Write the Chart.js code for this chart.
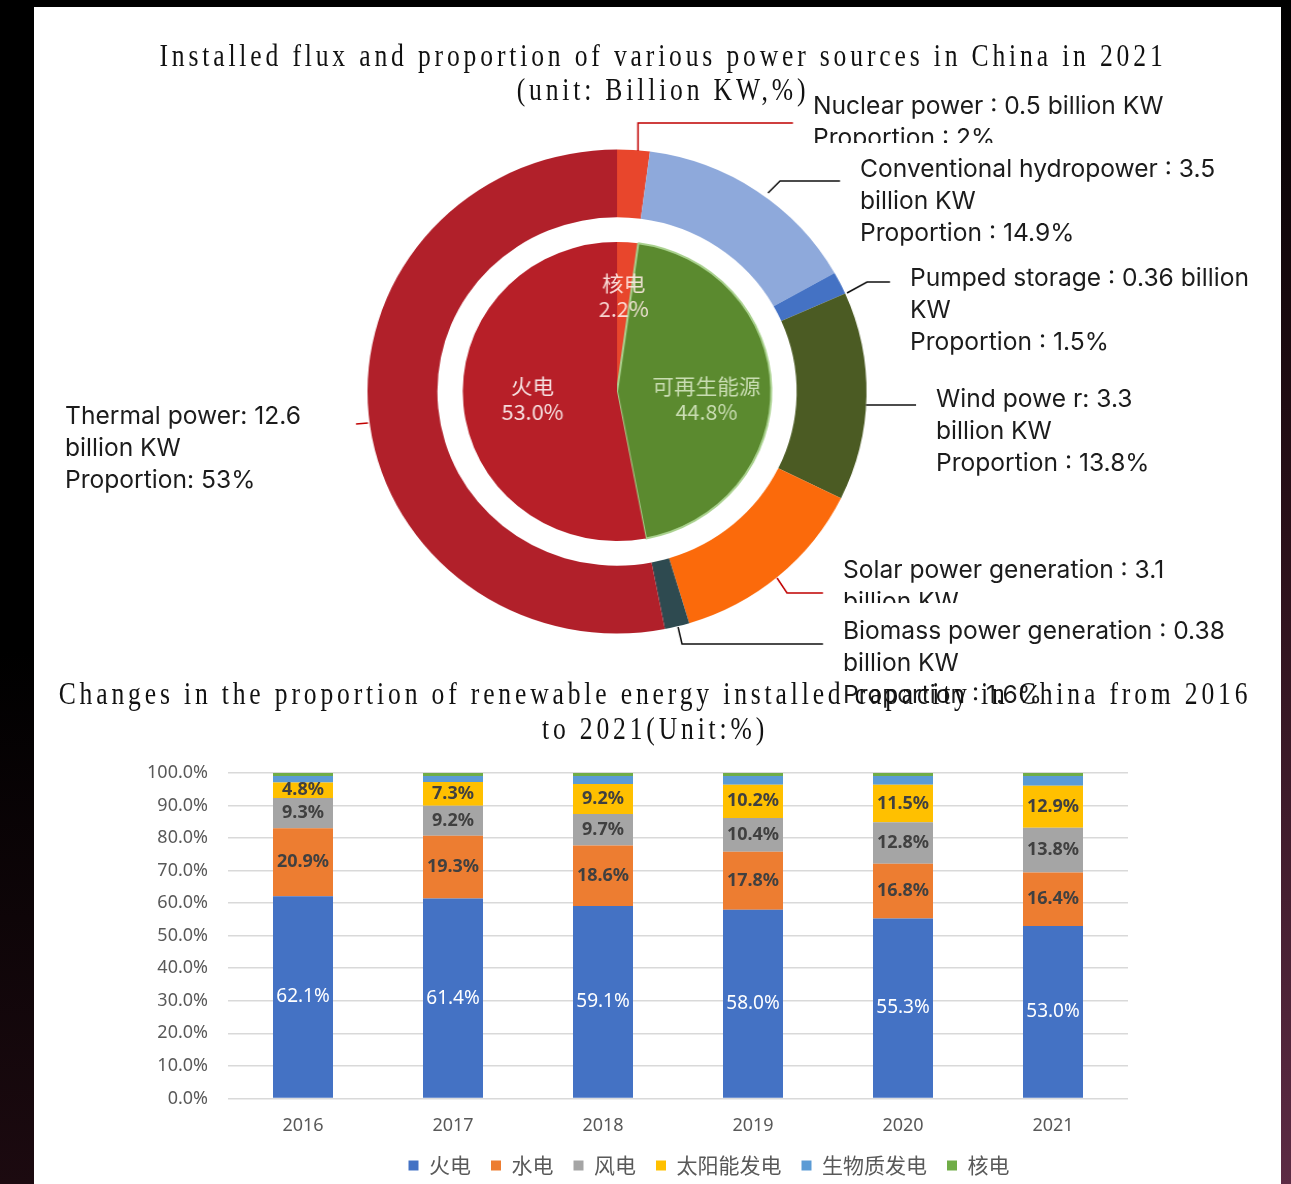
<!DOCTYPE html>
<html>
<head>
<meta charset="utf-8">
<title>China power sources 2021</title>
<script src="https://cdn.jsdelivr.net/npm/chart.js@4.4.0/dist/chart.umd.min.js"></script>
<style>
  html, body { margin: 0; padding: 0; }
  body { width: 1291px; height: 1184px; background: #000; position: relative; overflow: hidden; }
  #leftEdge { position: absolute; left: 0; top: 0; width: 34px; height: 1184px; background: linear-gradient(#000 55%, #1c0a10 100%); }
  #rightEdge { position: absolute; left: 1281px; top: 0; width: 10px; height: 1184px; background: linear-gradient(#000 0%, #2a1019 45%, #5c2b44 100%); }
  #sheet { position: absolute; left: 34px; top: 7px; width: 1247px; height: 1177px; background: #fff; }
  .title { position: absolute; width: 2000px; text-align: center; font-family: "Liberation Serif", serif; font-size: 32px; color: #111;
           white-space: nowrap; letter-spacing: 4.8px; transform: scaleX(0.8); transform-origin: center; line-height: 36px; }
  .note { position: absolute; font-family: Inter, sans-serif; font-size: 24.6px; line-height: 32px; color: #1c1c1c; white-space: nowrap; overflow: hidden; }
  /* the ring is drawn slightly wider than tall */
  #ringBox { position: absolute; left: 0; top: 0; width: 1291px; height: 700px; transform: scaleX(1.031); transform-origin: 617px 391px; }
  #barBox { position: absolute; left: 130px; top: 760px; width: 1000px; height: 426px; }
</style>
</head>
<body>
<div id="leftEdge"></div>
<div id="sheet"></div>
<div id="rightEdge"></div>

<div id="ringBox"><canvas id="ringChart"></canvas></div>
<div id="barBox"><canvas id="barChart"></canvas></div>

<div class="title" style="left:-337px; top:37px;">Installed flux and proportion of various power sources in China in 2021</div>
<div class="title" style="left:-337px; top:71px;">(unit: Billion KW,%)</div>

<div class="note" style="left:813px; top:89px; height:54px;">Nuclear power : 0.5 billion KW<br>Proportion : 2%</div>
<div class="note" style="left:860px; top:152px;">Conventional hydropower : 3.5<br>billion KW<br>Proportion : 14.9%</div>
<div class="note" style="left:910px; top:261px;">Pumped storage : 0.36 billion<br>KW<br>Proportion : 1.5%</div>
<div class="note" style="left:936px; top:382px;">Wind powe r: 3.3<br>billion KW<br>Proportion : 13.8%</div>
<div class="note" style="left:843px; top:553px; height:50px;">Solar power generation : 3.1<br>billion KW</div>
<div class="note" style="left:843px; top:614px;">Biomass power generation : 0.38<br>billion KW<br>Proportion : 1.6%</div>
<div class="note" style="left:65px; top:399px;">Thermal power: 12.6<br>billion KW<br>Proportion: 53%</div>

<div class="title" style="left:-345px; top:675px;">Changes in the proportion of renewable energy installed capacity in China from 2016</div>
<div class="title" style="left:-345px; top:710px;">to 2021(Unit:%)</div>

<script>
// 2021 installed capacity by source (billion KW), clockwise from the top
const sourceNames = ['Nuclear power', 'Conventional hydropower', 'Pumped storage', 'Wind power',
                     'Solar power generation', 'Biomass power generation', 'Thermal power'];
const sourceCapacity = [0.5, 3.5, 0.36, 3.3, 3.1, 0.38, 12.6];
const sourceColors = ['#E8462C', '#8EA9DB', '#4472C4', '#4B5B23', '#FB6A0B', '#2E4A50', '#B1202A'];

// inner pie: share of 2021 capacity (%)
const groupNames = ['核电', '可再生能源', '火电'];
const groupShare = [2.2, 44.8, 53.0];
const groupColors = ['#E8462C', '#5B8A2F', '#B71F28'];
const groupTextColors = ['rgba(255,235,230,0.9)', '#C9DDB2', '#F6E0E0'];
const groupLabelRadius = [0.64, 0.58, 0.55];
const groupLabelNudge = [0, 10, 0];

// yearly share of installed capacity (%), 2016-2021
const years = ['2016', '2017', '2018', '2019', '2020', '2021'];
const thermalShare = [62.1, 61.4, 59.1, 58.0, 55.3, 53.0];
const hydroShare   = [20.9, 19.3, 18.6, 17.8, 16.8, 16.4];
const windShare    = [9.3, 9.2, 9.7, 10.4, 12.8, 13.8];
const solarShare   = [4.8, 7.3, 9.2, 10.2, 11.5, 12.9];
const biomassShare = [2.0, 1.9, 2.5, 2.7, 2.7, 3.0];
const nuclearShare = [0.9, 0.9, 0.9, 0.9, 0.9, 0.9];

// callout leader lines (page pixels)
const leaders = [
  { color: '#C00000', pts: [[638, 151], [638, 123], [793, 123]] },
  { color: '#111', pts: [[768, 193], [780, 181], [840, 181]] },
  { color: '#111', pts: [[847, 293], [867, 282], [890, 282]] },
  { color: '#111', pts: [[866, 405], [916, 405]] },
  { color: '#C00000', pts: [[777, 578], [787, 593], [823, 593]] },
  { color: '#111', pts: [[678, 627], [682, 644], [823, 644]] },
  { color: '#C00000', pts: [[356, 424], [368, 423]] }
];
const RING_STRETCH = 1.031, RING_CX = 617;

const leaderPlugin = {
  id: 'leaders',
  afterDraw(chart) {
    const ctx = chart.ctx;
    // undo the css stretch so the lines land on page pixels
    const px = x => RING_CX + (x - RING_CX) / RING_STRETCH;
    ctx.save();
    ctx.lineWidth = 1.5;
    leaders.forEach(l => {
      ctx.strokeStyle = l.color;
      ctx.beginPath();
      l.pts.forEach((p, i) => i ? ctx.lineTo(px(p[0]), p[1]) : ctx.moveTo(px(p[0]), p[1]));
      ctx.stroke();
    });
    ctx.restore();
  }
};

const pieLabelPlugin = {
  id: 'pieLabels',
  afterDatasetsDraw(chart) {
    const ctx = chart.ctx;
    const meta = chart.getDatasetMeta(2);
    ctx.save();
    ctx.font = '21px "Noto Sans CJK SC"';
    ctx.textAlign = 'center';
    ctx.textBaseline = 'middle';
    meta.data.forEach((arc, i) => {
      const mid = (arc.startAngle + arc.endAngle) / 2;
      const r = arc.outerRadius * groupLabelRadius[i];
      const x = arc.x + Math.cos(mid) * r;
      const y = arc.y + Math.sin(mid) * r + groupLabelNudge[i];
      ctx.fillStyle = groupTextColors[i];
      ctx.fillText(groupNames[i], x, y - 13);
      ctx.fillText(groupShare[i].toFixed(1) + '%', x, y + 13);
    });
    ctx.restore();
  }
};

new Chart(document.getElementById('ringChart'), {
  type: 'doughnut',
  data: {
    labels: sourceNames,
    datasets: [
      { data: sourceCapacity, backgroundColor: sourceColors, borderWidth: 0, weight: 67.5 },
      { data: [1], backgroundColor: 'rgba(0,0,0,0)', borderWidth: 0, weight: 24.5 },
      { data: groupShare, backgroundColor: groupColors, borderWidth: [0, 2, 0], borderColor: '#A9D18E', weight: 149 }
    ]
  },
  options: {
    responsive: true,
    maintainAspectRatio: false,
    animation: false,
    cutout: 0,
    hoverOffset: 0,
    layout: { padding: { left: 375, right: 432, top: 149.5, bottom: 66.5 } },
    plugins: { legend: { display: false }, tooltip: { enabled: false } }
  },
  plugins: [pieLabelPlugin, leaderPlugin]
});

// value labels in the middle of each stacked segment
const barLabelPlugin = {
  id: 'barLabels',
  afterDatasetsDraw(chart) {
    const ctx = chart.ctx;
    ctx.save();
    ctx.textAlign = 'center';
    ctx.textBaseline = 'middle';
    chart.data.datasets.forEach((ds, di) => {
      if (di > 3) return;
      const meta = chart.getDatasetMeta(di);
      ctx.font = di === 0 ? '19px "Noto Sans"' : 'bold 18px "Noto Sans"';
      ctx.fillStyle = di === 0 ? '#FFFFFF' : '#404040';
      meta.data.forEach((bar, i) => {
        ctx.fillText(ds.data[i].toFixed(1) + '%', bar.x, (bar.y + bar.base) / 2);
      });
    });
    ctx.restore();
  }
};

// legend row sits a little right of the plot centre
const legendShift = {
  id: 'legendShift',
  afterLayout(chart) {
    chart.legend.left += 80;
    chart.legend.right += 80;
  }
};

new Chart(document.getElementById('barChart'), {
  type: 'bar',
  data: {
    labels: years,
    datasets: [
      { label: '火电', data: thermalShare, backgroundColor: '#4472C4' },
      { label: '水电', data: hydroShare, backgroundColor: '#ED7D31' },
      { label: '风电', data: windShare, backgroundColor: '#A5A5A5' },
      { label: '太阳能发电', data: solarShare, backgroundColor: '#FFC000' },
      { label: '生物质发电', data: biomassShare, backgroundColor: '#5B9BD5' },
      { label: '核电', data: nuclearShare, backgroundColor: '#70AD47' }
    ]
  },
  options: {
    responsive: true,
    maintainAspectRatio: false,
    animation: false,
    barPercentage: 0.4,
    categoryPercentage: 1.0,
    layout: { padding: { top: 13, right: 2, left: 0, bottom: 0 } },
    scales: {
      x: {
        stacked: true,
        afterFit(scale) { scale.height = 36.6; },
        grid: { display: false },
        border: { display: false },
        ticks: { color: '#595959', font: { size: 18, family: '"Noto Sans"' }, padding: 9 }
      },
      y: {
        stacked: true,
        min: 0,
        max: 100,
        afterFit(scale) { scale.width = 98; scale.paddingTop = 0; scale.paddingBottom = 0; },
        grid: { color: '#D9D9D9', lineWidth: 1.5, drawTicks: false },
        border: { display: false },
        ticks: {
          stepSize: 10,
          padding: 20,
          color: '#595959',
          font: { size: 18, family: '"Noto Sans"' },
          callback: v => v.toFixed(1) + '%'
        }
      }
    },
    plugins: {
      legend: {
        position: 'bottom',
        labels: { boxWidth: 10, boxHeight: 10, padding: 20, color: '#595959', font: { size: 21, family: '"Noto Sans CJK SC"' } }
      },
      tooltip: { enabled: false }
    }
  },
  plugins: [barLabelPlugin, legendShift]
});
</script>
</body>
</html>
